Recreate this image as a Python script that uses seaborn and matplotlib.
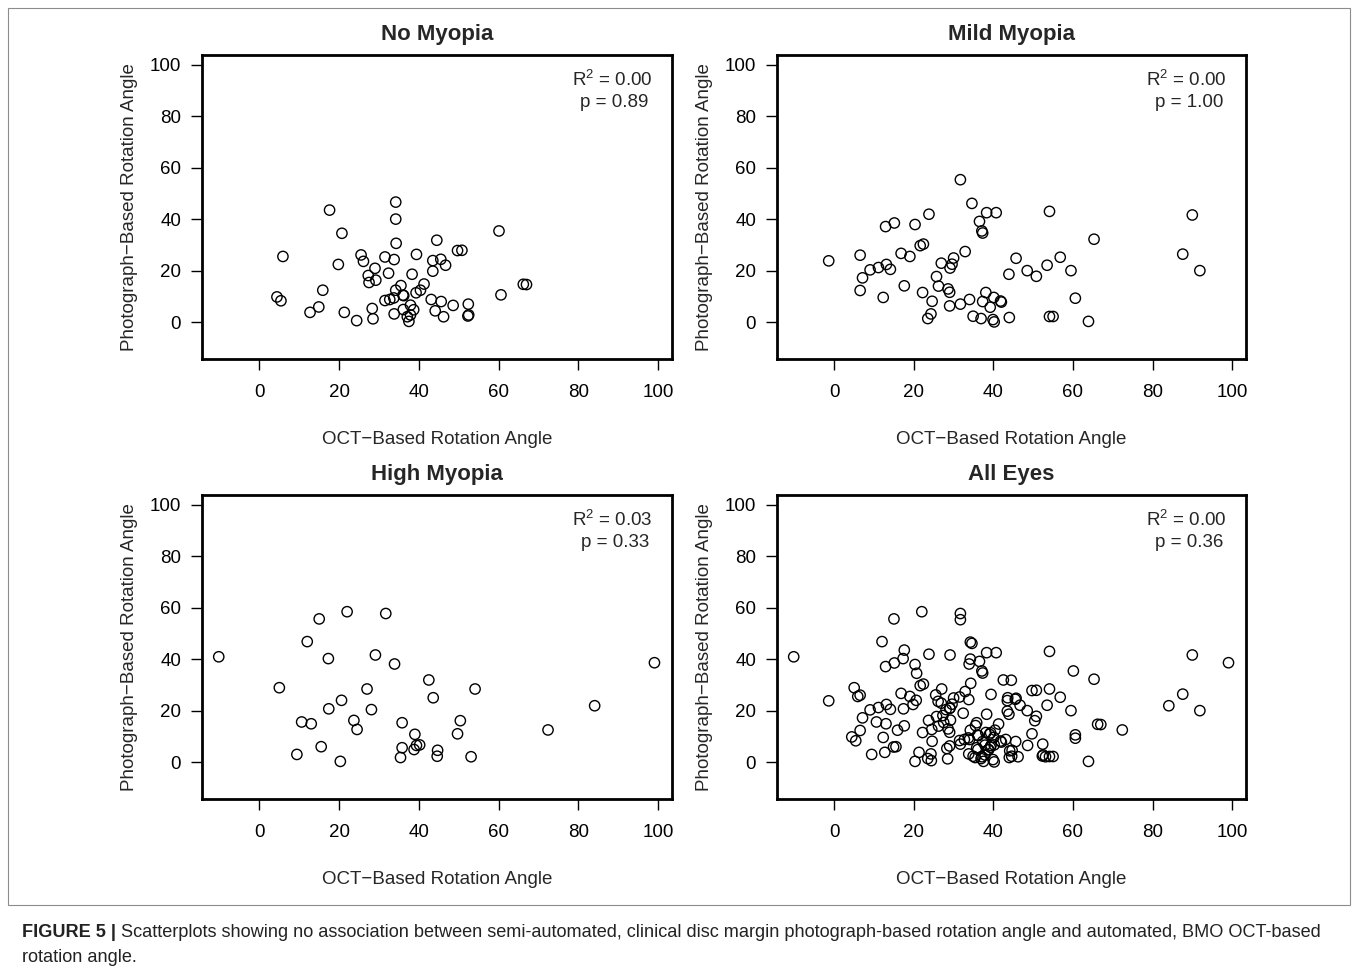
import numpy as np
import pandas as pd
import matplotlib
matplotlib.use('Agg')
import matplotlib.pyplot as plt
import matplotlib.patches as mpatches
import seaborn as sns

# No Myopia
nm_oct = [5.9, 4.4, 5.4, 15.9, 12.7, 14.9, 17.6, 20.7, 19.8, 21.3, 24.4, 25.5, 26.1, 29.0,
          27.3, 27.5, 29.2, 28.3, 28.5, 31.5, 33.8, 32.4, 34.2, 34.2, 34.3, 39.4, 38.3, 35.5,
          34.2, 36.0, 36.2, 33.7, 32.7, 31.5, 39.3, 40.4, 41.3, 36.1, 33.8, 37.9, 38.7, 37.1,
          37.9, 37.5, 44.5, 43.5, 45.5, 46.7, 43.5, 49.7, 50.8, 60.1, 43.1, 45.6, 44.1, 46.2,
          48.6, 52.4, 52.3, 52.5, 60.6, 66.2, 67.0]
nm_photo = [25.5, 9.8, 8.3, 12.4, 3.8, 5.9, 43.5, 34.5, 22.4, 3.8, 0.6, 26.1, 23.6, 20.9,
            18.1, 15.4, 16.3, 5.3, 1.3, 25.3, 24.3, 19.0, 46.6, 40.0, 30.6, 26.3, 18.6, 14.2,
            12.4, 10.5, 10.3, 9.4, 8.8, 8.4, 11.4, 12.4, 14.8, 4.9, 3.2, 6.6, 4.8, 2.1,
            2.8, 0.3, 31.8, 23.9, 24.4, 22.1, 19.8, 27.8, 27.9, 35.4, 8.8, 8.0, 4.4, 2.1,
            6.5, 7.0, 2.4, 2.8, 10.6, 14.7, 14.6]

# Mild Myopia
mm_oct = [-1.4, 6.5, 7.1, 6.5, 9.0, 11.1, 13.1, 14.1, 12.3, 12.9, 15.1, 16.8, 19.0, 17.6,
          20.3, 23.8, 21.6, 22.4, 22.2, 24.6, 24.3, 23.5, 25.7, 26.2, 26.9, 30.0, 29.6, 29.1,
          28.6, 29.0, 29.0, 31.7, 32.9, 31.7, 34.6, 38.3, 40.7, 36.5, 37.1, 37.3, 34.0, 34.9,
          36.9, 37.3, 38.1, 40.1, 39.2, 42.0, 41.8, 39.9, 40.2, 44.0, 43.9, 45.7, 54.1, 65.3,
          48.5, 50.8, 53.5, 56.8, 59.5, 60.6, 54.1, 55.0, 63.9, 90.0, 87.6, 91.9]
mm_photo = [23.8, 26.0, 17.2, 12.3, 20.3, 21.2, 22.4, 20.5, 9.6, 37.1, 38.5, 26.7, 25.5, 14.1,
            37.9, 41.9, 29.7, 30.3, 11.5, 8.1, 3.2, 1.4, 17.7, 14.0, 22.9, 24.9, 22.5, 21.0,
            12.9, 11.6, 6.3, 7.0, 27.4, 55.3, 46.1, 42.5, 42.5, 39.1, 35.4, 34.6, 8.8, 2.3,
            1.4, 8.0, 11.5, 9.6, 5.8, 7.8, 8.2, 1.0, 0.1, 1.8, 18.6, 24.8, 43.0, 32.2,
            20.0, 17.8, 22.1, 25.2, 20.0, 9.3, 2.2, 2.2, 0.3, 41.6, 26.4, 20.0]

# High Myopia
hm_oct = [-10.2, 5.0, 9.4, 10.6, 13.0, 12.0, 15.0, 15.5, 17.3, 17.4, 20.3, 20.6, 22.0, 23.7,
          24.5, 27.0, 28.1, 29.1, 31.7, 33.9, 35.8, 35.8, 35.4, 39.0, 38.8, 39.4, 40.2, 42.5,
          43.6, 54.1, 50.4, 49.7, 44.7, 44.6, 53.1, 72.4, 84.1, 99.1]
hm_photo = [40.9, 28.9, 3.0, 15.6, 14.9, 46.8, 55.6, 6.0, 40.2, 20.7, 0.3, 24.0, 58.4, 16.2,
            12.7, 28.4, 20.4, 41.6, 57.7, 38.1, 15.3, 5.6, 1.8, 10.8, 4.9, 6.5, 6.7, 31.9,
            25.0, 28.4, 16.1, 11.0, 4.6, 2.3, 2.1, 12.5, 21.9, 38.6]

titles = ['No Myopia', 'Mild Myopia', 'High Myopia', 'All Eyes']
r2_vals = ['0.00', '0.00', '0.03', '0.00']
p_vals = ['0.89', '1.00', '0.33', '0.36']

groups = [
    pd.DataFrame({'oct': nm_oct, 'photo': nm_photo}),
    pd.DataFrame({'oct': mm_oct, 'photo': mm_photo}),
    pd.DataFrame({'oct': hm_oct, 'photo': hm_photo}),
]
groups.append(pd.concat(groups, ignore_index=True))

sns.set_style('white')
plt.rcParams['font.family'] = ['Liberation Sans', 'DejaVu Sans']
plt.rcParams['mathtext.fontset'] = 'custom'
plt.rcParams['mathtext.rm'] = 'Liberation Sans'
plt.rcParams['mathtext.it'] = 'Liberation Sans'

W, H = 1357, 974
fig = plt.figure(figsize=(W / 100, H / 100), dpi=100)
fig.patch.set_facecolor('white')

# axes boxes in pixels: left, right, top, bottom
boxes = [(202, 672, 55, 359), (777, 1246, 55, 359),
         (202, 672, 495, 799), (777, 1246, 495, 799)]

for i, (l, r, t, b) in enumerate(boxes):
    ax = fig.add_axes([l / W, (H - b) / H, (r - l) / W, (b - t) / H])
    d = groups[i]
    sns.scatterplot(data=d, x='oct', y='photo', ax=ax, s=55, marker='o',
                    facecolors='none', edgecolor='black', linewidth=1.0)
    ax.set_xlim(-14.4, 103.5)
    ax.set_ylim(-14.3, 103.7)
    ax.set_xticks(range(0, 101, 20))
    ax.set_yticks(range(0, 101, 20))
    ax.tick_params(axis='both', direction='out', length=8, width=1, labelsize=13.5,
                   bottom=True, left=True, color='black', labelcolor='black')
    ax.tick_params(axis='x', pad=10)
    ax.tick_params(axis='y', pad=7)
    for sp in ax.spines.values():
        sp.set_visible(True)
        sp.set_linewidth(2)
        sp.set_color('black')
    ax.set_xlabel('OCT\u2212Based Rotation Angle', fontsize=13.5)
    ax.set_ylabel('Photograph\u2212Based Rotation Angle', fontsize=13.5)
    ax.xaxis.set_label_coords(0.5, -0.238)
    ax.yaxis.set_label_coords(-0.137, 0.5)
    ax.set_title(titles[i], fontsize=16, fontweight='bold', pad=11)
    ax.text(0.873, 0.918, r'R$^2$ = ' + r2_vals[i], transform=ax.transAxes,
            ha='center', va='center', fontsize=13.5)
    ax.text(0.878, 0.845, 'p = ' + p_vals[i], transform=ax.transAxes,
            ha='center', va='center', fontsize=13.5)

# frame around the plot area
fig.patches.append(mpatches.Rectangle((8 / W, (H - 905) / H), 1342 / W, 897 / H,
                                      transform=fig.transFigure, fill=False,
                                      edgecolor='#8c8c8c', linewidth=0.8))

# caption
renderer = fig.canvas.get_renderer()
cap_bold = fig.text(22 / W, (H - 937) / H, 'FIGURE 5 |', fontsize=13.1, fontweight='bold',
                    va='baseline', ha='left', color='#222222')
bb = cap_bold.get_window_extent(renderer=renderer)
fig.text((bb.x1 + 5) / W, (H - 937) / H,
         'Scatterplots showing no association between semi-automated, clinical disc margin '
         'photograph-based rotation angle and automated, BMO OCT-based',
         fontsize=13.1, va='baseline', ha='left', color='#222222')
fig.text(22 / W, (H - 962) / H, 'rotation angle.', fontsize=13.1, va='baseline', ha='left',
         color='#222222')

fig.savefig('out.png', dpi=100)
